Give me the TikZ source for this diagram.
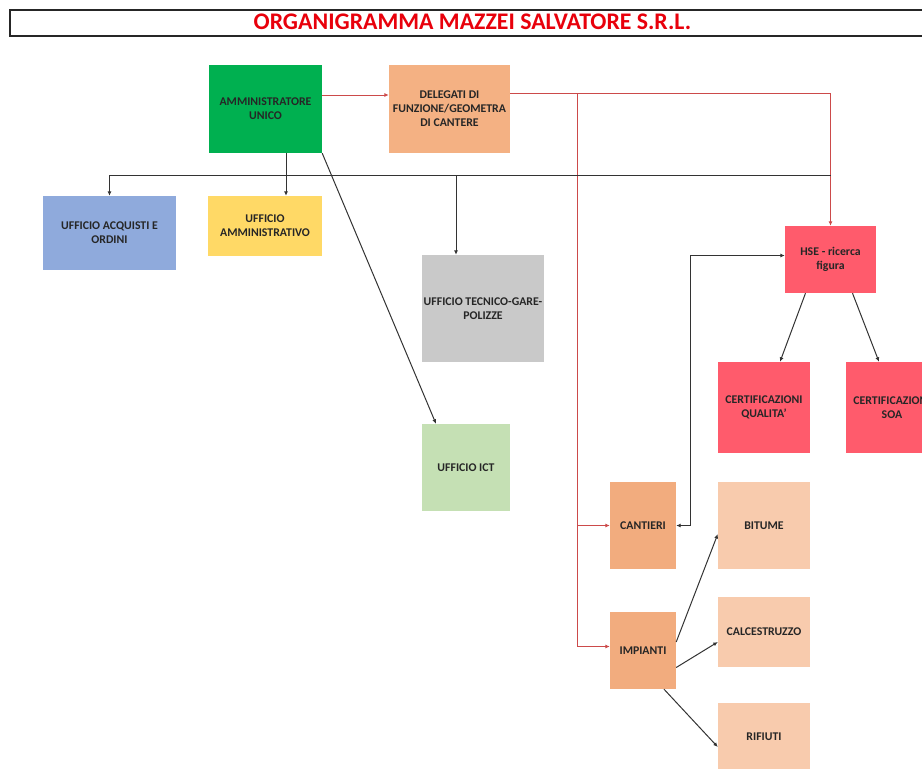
\documentclass[tikz,border=0pt]{standalone}
\usepackage{fontspec}
\setmainfont{Carlito}
\usetikzlibrary{arrows.meta}
\definecolor{cgreen}{HTML}{00B050}
\definecolor{corange}{HTML}{F4B183}
\definecolor{cblue}{HTML}{8FAADC}
\definecolor{cyellow}{HTML}{FFD966}
\definecolor{cgrey}{HTML}{C9C9C9}
\definecolor{clgreen}{HTML}{C5E0B4}
\definecolor{cred}{HTML}{FF5B6C}
\definecolor{cpeach}{HTML}{F8CBAD}
\definecolor{cdorange}{HTML}{F2AC7E}
\definecolor{redline}{HTML}{CC4A4A}
\definecolor{titlered}{HTML}{E8000B}
\tikzset{
  box/.style={rectangle, inner sep=0pt, align=center, text=black!85,
    font=\fontsize{11.8}{14}\selectfont\bfseries},
  blk/.style={draw=black!80, line width=1pt, -{Latex[length=4.5pt,width=4pt]}},
  blkline/.style={draw=black!80, line width=1pt},
  redl/.style={draw=redline, line width=1pt, -{Latex[length=4.5pt,width=4pt]}},
}
\begin{document}
\begin{tikzpicture}[x=1pt,y=-1pt]
\useasboundingbox (0,0) rectangle (922,769);
% title
\node[draw=black!85, line width=1.3pt, minimum width=930, minimum height=26, inner sep=0pt] (frame) at (475,23) {};
\node[font=\fontsize{23.8}{26}\selectfont\bfseries, text=titlered, inner sep=0pt] (title) at (472.5,22) {ORGANIGRAMMA MAZZEI SALVATORE S.R.L.};
% boxes
\node[box, fill=cgreen, minimum width=113, minimum height=88] (au) at (265.5,109) {AMMINISTRATORE\\UNICO};
\node[box, fill=corange, minimum width=121, minimum height=88] (del) at (449.5,109) {DELEGATI DI\\FUNZIONE/GEOMETRA\\DI CANTERE};
\node[box, fill=cblue, minimum width=133, minimum height=74] (acq) at (109.5,233) {UFFICIO ACQUISTI E\\ORDINI};
\node[box, fill=cyellow, minimum width=114, minimum height=60] (amm) at (265,226) {UFFICIO\\AMMINISTRATIVO};
\node[box, fill=cgrey, minimum width=122, minimum height=107] (tec) at (483,308.5) {UFFICIO TECNICO-GARE-\\POLIZZE};
\node[box, fill=clgreen, minimum width=88, minimum height=87] (ict) at (466,467.5) {UFFICIO ICT};
\node[box, fill=cred, minimum width=91, minimum height=67] (hse) at (830.5,259.5) {HSE - ricerca\\figura};
\node[box, fill=cred, minimum width=92, minimum height=91] (cq) at (764,407.5) {CERTIFICAZIONI\\QUALITA'};
\node[box, fill=cred, minimum width=92, minimum height=91] (soa) at (892,407.5) {CERTIFICAZIONI\\SOA};
\node[box, fill=cdorange, minimum width=66, minimum height=87] (can) at (643,525.5) {CANTIERI};
\node[box, fill=cdorange, minimum width=66, minimum height=77] (imp) at (643,650.5) {IMPIANTI};
\node[box, fill=cpeach, minimum width=92, minimum height=87] (bit) at (764,525.5) {BITUME};
\node[box, fill=cpeach, minimum width=92, minimum height=70] (cal) at (764,632) {CALCESTRUZZO};
\node[box, fill=cpeach, minimum width=92, minimum height=68] (rif) at (764,737) {RIFIUTI};
% red connectors
\draw[redl] ([yshift=14]au.east) -- ([yshift=14]del.west);
\coordinate (rj) at (577,93);
\draw[redl] ([yshift=16]del.east) -| (hse.north);
\draw[redl] (rj) |- (can.west);
\draw[redl] (rj) |- ([yshift=4]imp.west);
% black bus
\coordinate (bus) at (286,175);
\draw[blk] ([xshift=20.5]au.south) -- ([xshift=21]amm.north);
\draw[blk] (bus) -| (acq.north);
\draw[blk] (bus) -| ([xshift=-27]tec.north);
\draw[blkline] (bus) -- (hse.north |- bus);
\draw[blk] (au.south east) -- ([xshift=-30]ict.north);
% cantieri <-> hse
\coordinate (cj) at (690,525.5);
\draw[blkline, {Latex[length=4.5pt,width=4pt]}-{Latex[length=4.5pt,width=4pt]}] (can.east) -- (cj) |- ([yshift=4]hse.west);
% hse children
\draw[blk] ([xshift=-25]hse.south) -- ([xshift=16]cq.north);
\draw[blk] ([xshift=22]hse.south) -- ([xshift=-13]soa.north);
% impianti children
\draw[blk] ([yshift=8.5]imp.east) -- ([yshift=-8.5]bit.west);
\draw[blk] ([yshift=-17]imp.east) -- ([yshift=-10]cal.west);
\draw[blk] ([xshift=21]imp.south) -- ([yshift=-10]rif.west);
\end{tikzpicture}
\end{document}
